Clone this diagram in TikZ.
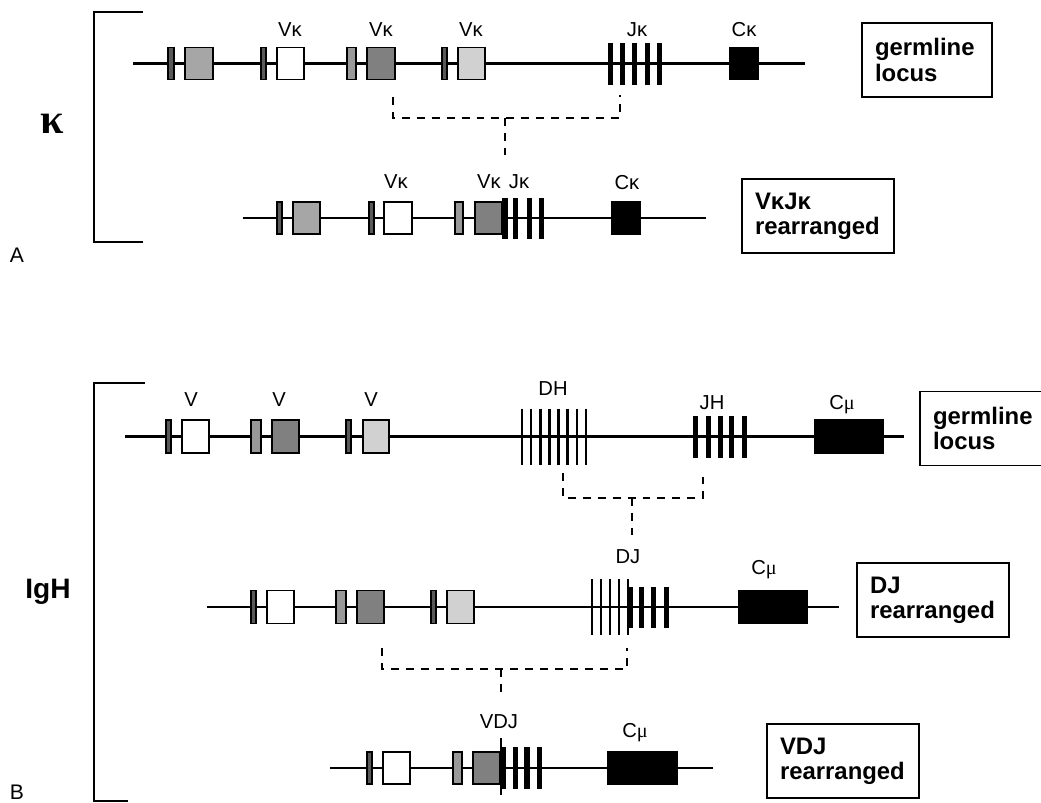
\documentclass[tikz,border=0pt]{standalone}
\usepackage{fontspec}
\setmainfont{Liberation Sans}
\newfontfamily\greekserif{Liberation Serif}
\newcommand{\Cmu}{C{\greekserif μ}}

\begin{document}
\begin{tikzpicture}[
  x=0.02cm,y=-0.02cm,
  dna/.style={line width=1.2pt},
  exon/.style={draw=black,line width=1.1pt},
  dbar/.style={line width=1.5pt},
  seglabel/.style={font=\fontsize{11.5}{13}\selectfont,inner sep=0pt},
  statebox/.style={draw,line width=1.1pt,align=left,inner xsep=0.26cm,
    minimum height=1.48cm,font=\fontsize{13.6}{14.4}\selectfont\bfseries},
  joinline/.style={line width=1.1pt,dash pattern=on 4.5pt off 4pt},
  bracket/.style={line width=1.3pt}
]
  \useasboundingbox (0,0) rectangle (1041,802);

  % Brackets, chain names and panel letters.
  \draw[bracket] (143,12) -| (94,242) -- (143,242);
  \draw[bracket] (145,383) -| (94,801) -- (128,801);
  \node[font=\greekserif\bfseries\fontsize{24}{24}\selectfont] (kname) at (52,124) {κ};
  \node[font=\bfseries\fontsize{16}{16}\selectfont] (hname) at (48,592) {IgH};
  \node[font=\fontsize{12}{12}\selectfont] (panelA) at (17,255) {A};
  \node[font=\fontsize{12}{12}\selectfont] (panelB) at (17,792) {B};

  % Kappa, germline locus.
  \def\rowy{63.5}
  \draw[dna] (133,\rowy) -- (805,\rowy);
  \foreach \xa/\xb/\segfill in {168/174/black!65, 185/213/black!35,
    261/266/black!65, 277/304/white, 347/356/black!40, 367/395/black!50,
    442/447/black!65, 458/485/black!18, 730/758/black}
    \filldraw[exon,fill=\segfill] (\xa,\rowy-16) rectangle (\xb,\rowy+16);
  \foreach \xa in {608,620,632,645,657}
    \fill (\xa,\rowy-21) rectangle ++(5,42);
  \node[seglabel] (vkA) at (290,30) {Vκ};
  \node[seglabel] (vkB) at (381,30) {Vκ};
  \node[seglabel] (vkC) at (471,30) {Vκ};
  \node[seglabel] (jk) at (637,30) {Jκ};
  \node[seglabel] (ck) at (744,30) {Cκ};
  \node[statebox,text width=2.08cm] (kgerm) at (927,60) {germline\\locus};

  % Kappa, V-J joining.
  \coordinate (kjV) at (393,97);
  \coordinate (kjJ) at (620,95);
  \coordinate (kjM) at (505,118);
  \coordinate (kjE) at (505,155);
  \draw[joinline] (kjV) |- (kjM) -| (kjJ);
  \draw[joinline] (kjM) -- (kjE);

  % Kappa, rearranged.
  \def\rowy{218}
  \draw[dna] (243,\rowy) -- (706,\rowy);
  \foreach \xa/\xb/\segfill in {277/282/black!65, 293/320/black!35,
    369/374/black!65, 384/412/white, 455/463/black!40, 475/502/black!50,
    612/640/black}
    \filldraw[exon,fill=\segfill] (\xa,\rowy-16) rectangle (\xb,\rowy+16);
  \foreach \xa/\xb in {502/508,513/518,527/532,539/544}
    \fill (\xa,\rowy-20.5) rectangle (\xb,\rowy+20.5);
  \node[seglabel] (vkD) at (396,182) {Vκ};
  \node[seglabel] (vkE) at (489,182) {Vκ};
  \node[seglabel] (jkr) at (519,182) {Jκ};
  \node[seglabel] (ckr) at (627,183) {Cκ};
  \node[statebox,text width=2.52cm] (kvj) at (818,216) {VκJκ\\rearranged};

  % Heavy chain, germline locus.
  \def\rowy{436.5}
  \draw[dna] (125,\rowy) -- (904,\rowy);
  \foreach \xa/\xb/\segfill in {166/171/black!65, 182/209/white,
    251/261/black!40, 272/299/black!50, 346/351/black!65, 363/389/black!18,
    815/883/black}
    \filldraw[exon,fill=\segfill] (\xa,\rowy-16.5) rectangle (\xb,\rowy+16.5);
  \foreach \i in {0,...,7}
    \draw[dbar] ({522+9.14*\i},\rowy-28) -- ++(0,56);
  \foreach \xa in {693,706,718,729,742}
    \fill (\xa,\rowy-21) rectangle ++(5,42);
  \node[seglabel] (vhA) at (191,400) {V};
  \node[seglabel] (vhB) at (279,400) {V};
  \node[seglabel] (vhC) at (371,400) {V};
  \node[seglabel] (dh) at (553,389) {DH};
  \node[seglabel] (jh) at (712,403) {JH};
  \node[seglabel] (cm) at (842,405) {\Cmu};
  \node[statebox,text width=2.08cm] (hgerm) at (985,428.5) {germline\\locus};

  % Heavy chain, D-J joining.
  \coordinate (hjD) at (563,473);
  \coordinate (hjJ) at (703,477);
  \coordinate (hjM) at (632,498);
  \coordinate (hjE) at (632,535);
  \draw[joinline] (hjD) |- (hjM) -| (hjJ);
  \draw[joinline] (hjM) -- (hjE);

  % Heavy chain, DJ rearranged.
  \def\rowy{607}
  \draw[dna] (207,\rowy) -- (839,\rowy);
  \foreach \xa/\xb/\segfill in {251/256/black!65, 267/294/white,
    336/346/black!40, 357/384/black!50, 431/436/black!65, 447/474/black!18,
    739/807/black}
    \filldraw[exon,fill=\segfill] (\xa,\rowy-16.5) rectangle (\xb,\rowy+16.5);
  \foreach \xa in {592,601,610,619,628}
    \draw[dbar] (\xa,\rowy-28) -- ++(0,56);
  \foreach \xa/\xb in {628/633,639/644,651/656,664/669}
    \fill (\xa,\rowy-20.5) rectangle (\xb,\rowy+20.5);
  \node[seglabel] (dj) at (628,557) {DJ};
  \node[seglabel] (cmr) at (764,570) {\Cmu};
  \node[statebox,text width=2.52cm] (hdj) at (933,600) {DJ\\rearranged};

  % Heavy chain, V-DJ joining.
  \coordinate (vjV) at (382,648);
  \coordinate (vjJ) at (627,648);
  \coordinate (vjM) at (501,669);
  \coordinate (vjE) at (501,693);
  \draw[joinline] (vjV) |- (vjM) -| (vjJ);
  \draw[joinline] (vjM) -- (vjE);

  % Heavy chain, VDJ rearranged.
  \def\rowy{768}
  \draw[dna] (330,\rowy) -- (713,\rowy);
  \foreach \xa/\xb/\segfill in {367/372/black!65, 383/410/white,
    453/462/black!40, 473/500/black!50, 608/677/black}
    \filldraw[exon,fill=\segfill] (\xa,\rowy-16) rectangle (\xb,\rowy+16);
  \foreach \xa/\xb in {501/506,513/518,524/530,537/542}
    \fill (\xa,\rowy-21) rectangle (\xb,\rowy+21);
  \draw[dbar] (501,738) -- (501,795);
  \node[seglabel] (vdj) at (499,722) {VDJ};
  \node[seglabel] (cmv) at (635,733) {\Cmu};
  \node[statebox,text width=2.52cm] (hvdj) at (843,761) {VDJ\\rearranged};
\end{tikzpicture}
\end{document}
